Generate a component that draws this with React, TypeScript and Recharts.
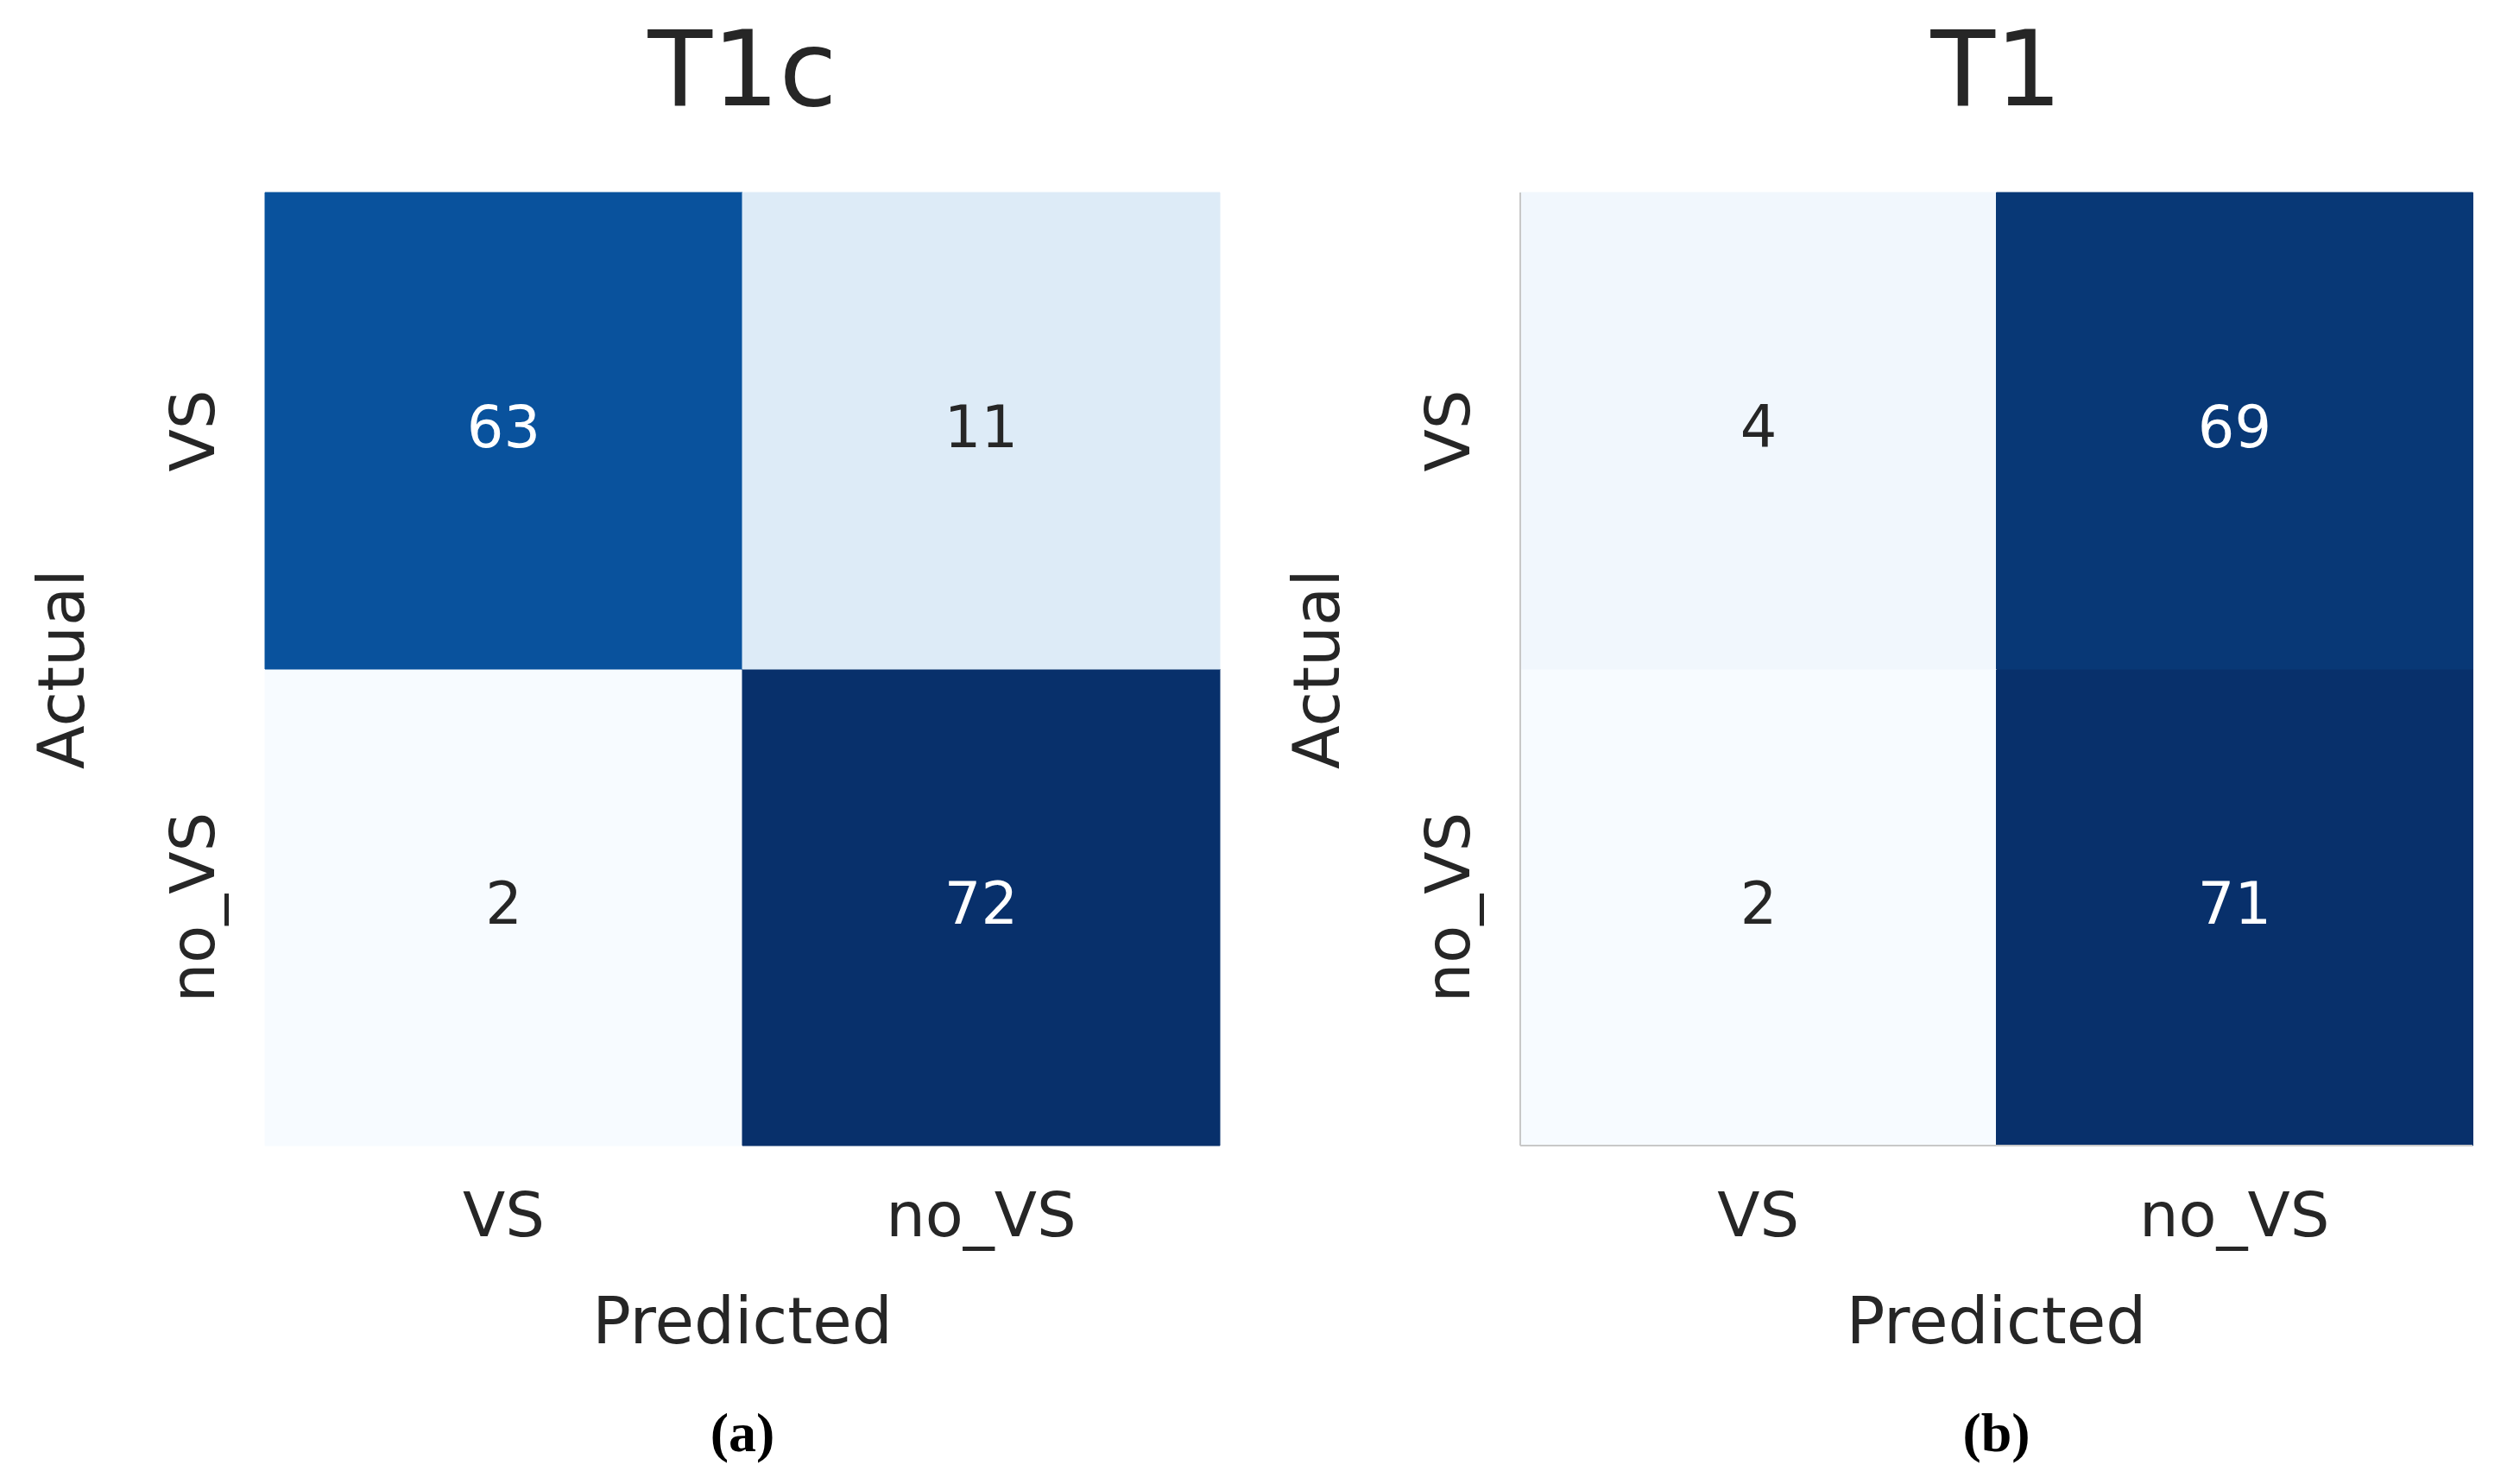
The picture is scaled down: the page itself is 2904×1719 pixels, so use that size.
import React from 'react';
import { BarChart, Bar, XAxis, YAxis, Cell, LabelList } from 'recharts';

// axis categories
const predictedLabels = ['VS', 'no_VS'];
const actualLabels = ['VS', 'no_VS'];

// confusion matrices: rows = actual, columns = predicted
const t1cCounts = [
  [63, 11],
  [2, 72],
];
const t1Counts = [
  [4, 69],
  [2, 71],
];

const panelTitles = ['T1c', 'T1'];
const panelCaptions = ['(a)', '(b)'];

const FONT = '"DejaVu Sans", sans-serif';
const INK = '#262626';
const PAGE_W = 2904;
const PAGE_H = 1719;

// matplotlib "Blues"
const BLUES = ['#f7fbff', '#deebf7', '#c6dbef', '#9ecae1', '#6baed6', '#4292c6', '#2171b5', '#08519c', '#08306b'];

const hexToRgb = (h: string) => [1, 3, 5].map((i) => parseInt(h.slice(i, i + 2), 16));

const blues = (t: number) => {
  const c = Math.max(0, Math.min(1, t)) * (BLUES.length - 1);
  const i = Math.min(Math.floor(c), BLUES.length - 2);
  const f = c - i;
  const a = hexToRgb(BLUES[i]);
  const b = hexToRgb(BLUES[i + 1]);
  const rgb = a.map((v, k) => Math.round(v + (b[k] - v) * f));
  return `rgb(${rgb.join(',')})`;
};

// one row per predicted column; the two stacked bars are the actual rows
const buildRows = (counts: number[][]) =>
  predictedLabels.map((p, j) => ({
    predicted: p,
    bottomCell: 1,
    topCell: 1,
    topCount: counts[0][j],
    bottomCount: counts[1][j],
  }));

interface PanelProps {
  counts: number[][];
  pageLeft: number;
  plotLeft: number;
  plotRight: number;
  bordered: boolean;
}

const PLOT_TOP = 223;
const PLOT_BOTTOM = 1327;
const Y_AXIS_W = 240;
const X_AXIS_H = 260;

const XTick = (props: any) => {
  const { x, y, payload } = props;
  return (
    <text x={x} y={y + 105} textAnchor="middle" fontSize={72} fill={INK} fontFamily={FONT}>
      {payload.value}
    </text>
  );
};

const YTick = (props: any) => {
  const { x, y, payload } = props;
  const label = payload.value > 1 ? actualLabels[0] : actualLabels[1];
  const tx = x - 59;
  return (
    <text
      x={tx}
      y={y}
      transform={`rotate(-90 ${tx} ${y})`}
      textAnchor="middle"
      fontSize={72}
      fill={INK}
      fontFamily={FONT}
    >
      {label}
    </text>
  );
};

const Panel: React.FC<PanelProps> = ({ counts, pageLeft, plotLeft, plotRight, bordered }) => {
  const rows = buildRows(counts);
  const flat = counts.flat();
  const lo = Math.min(...flat);
  const hi = Math.max(...flat);
  const norm = (v: number) => (v - lo) / (hi - lo);

  const countLabel = (props: any) => {
    const { x, y, width, height, value } = props;
    const dark = norm(value) > 0.5;
    return (
      <text
        x={x + width / 2}
        y={y + height / 2}
        dy={19}
        textAnchor="middle"
        fontSize={67}
        fill={dark ? '#ffffff' : INK}
        fontFamily={FONT}
      >
        {value}
      </text>
    );
  };

  const borderColor = '#c8c8c8';

  return (
    <div style={{ position: 'absolute', left: pageLeft, top: 0 }}>
      <BarChart
        width={PAGE_W / 2}
        height={PAGE_H}
        data={rows}
        barCategoryGap={0}
        barGap={0}
        margin={{
          top: PLOT_TOP,
          left: plotLeft - pageLeft - Y_AXIS_W,
          right: pageLeft + PAGE_W / 2 - plotRight,
          bottom: PAGE_H - PLOT_BOTTOM - X_AXIS_H,
        }}
      >
        <XAxis
          dataKey="predicted"
          height={X_AXIS_H}
          tickLine={false}
          tickSize={0}
          tickMargin={0}
          axisLine={bordered ? { stroke: borderColor, strokeWidth: 2 } : false}
          tick={<XTick />}
        />
        {bordered && (
          <XAxis
            xAxisId="top"
            orientation="top"
            dataKey="predicted"
            height={0}
            tick={false}
            tickLine={false}
            axisLine={{ stroke: borderColor, strokeWidth: 2 }}
          />
        )}
        <YAxis
          type="number"
          domain={[0, 2]}
          ticks={[0.5, 1.5]}
          width={Y_AXIS_W}
          tickLine={false}
          tickSize={0}
          tickMargin={0}
          axisLine={bordered ? { stroke: borderColor, strokeWidth: 2 } : false}
          tick={<YTick />}
        />
        <Bar dataKey="bottomCell" stackId="m" isAnimationActive={false}>
          {rows.map((r, i) => (
            <Cell key={`b-${i}`} fill={blues(norm(r.bottomCount))} stroke={blues(norm(r.bottomCount))} strokeWidth={1} />
          ))}
          <LabelList dataKey="bottomCount" content={countLabel} />
        </Bar>
        <Bar dataKey="topCell" stackId="m" isAnimationActive={false}>
          {rows.map((r, i) => (
            <Cell key={`t-${i}`} fill={blues(norm(r.topCount))} stroke={blues(norm(r.topCount))} strokeWidth={1} />
          ))}
          <LabelList dataKey="topCount" content={countLabel} />
        </Bar>
      </BarChart>
    </div>
  );
};

const layout = [
  { pageLeft: 0, plotLeft: 307, plotRight: 1413, bordered: false },
  { pageLeft: 1452, plotLeft: 1761, plotRight: 2864, bordered: true },
];

const App: React.FC = () => {
  const matrices = [t1cCounts, t1Counts];
  return (
    <div style={{ position: 'absolute', left: 0, top: 0, width: PAGE_W, height: PAGE_H, background: '#ffffff' }}>
      {layout.map((l, i) => (
        <Panel key={i} counts={matrices[i]} {...l} />
      ))}
      <svg
        width={PAGE_W}
        height={PAGE_H}
        style={{ position: 'absolute', left: 0, top: 0, pointerEvents: 'none' }}
      >
        {layout.map((l, i) => {
          const cx = (l.plotLeft + l.plotRight) / 2;
          const cy = (PLOT_TOP + PLOT_BOTTOM) / 2;
          const ax = l.plotLeft - 210;
          return (
            <g key={i}>
              <text x={cx} y={122} textAnchor="middle" fontSize={122} fill={INK} fontFamily={FONT}>
                {panelTitles[i]}
              </text>
              <text
                x={ax}
                y={cy}
                transform={`rotate(-90 ${ax} ${cy})`}
                textAnchor="middle"
                fontSize={74}
                fill={INK}
                fontFamily={FONT}
              >
                Actual
              </text>
              <text x={cx} y={1556} textAnchor="middle" fontSize={74} fill={INK} fontFamily={FONT}>
                Predicted
              </text>
              <text
                x={cx}
                y={1681}
                textAnchor="middle"
                fontSize={64}
                fontWeight="bold"
                fill="#000000"
                fontFamily='"Liberation Serif", serif'
              >
                {panelCaptions[i]}
              </text>
            </g>
          );
        })}
      </svg>
    </div>
  );
};

export default App;
